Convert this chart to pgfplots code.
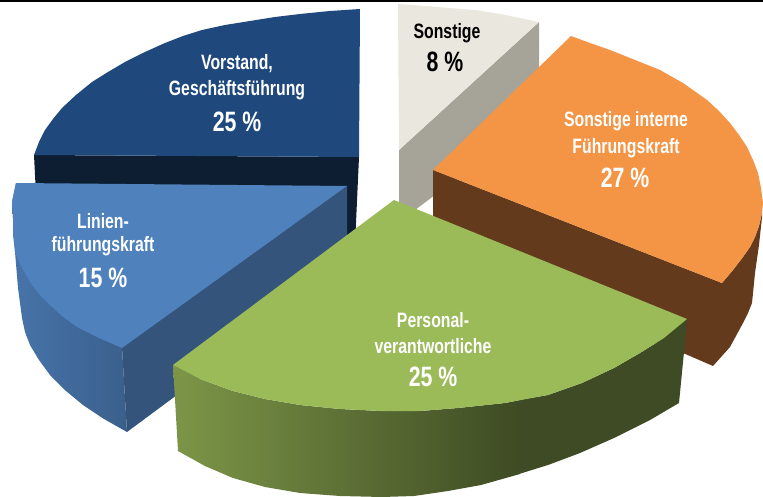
\documentclass[border=0pt]{standalone}
\usepackage{pgfplots}
\pgfplotsset{compat=1.18}
\usepackage{fontspec}
\setmainfont{Liberation Sans}[FakeStretch=0.76]
\definecolor{navy}{HTML}{1F497D}
\definecolor{navyd}{HTML}{0D1E33}
\definecolor{blu}{HTML}{4F81BD}
\definecolor{blud}{HTML}{34547B}
\definecolor{grn}{HTML}{9BBB59}
\definecolor{org}{HTML}{F49445}
\definecolor{brn}{HTML}{633A1C}
\definecolor{tan}{HTML}{EAE8DE}
\definecolor{tand}{HTML}{A6A398}
\newcommand{\lab}[3]{\node[text=white,font=\bfseries\fontsize{20.8}{22}\selectfont,anchor=center,inner sep=0pt] at (axis cs:#1,#2) {#3};}
\newcommand{\num}[3]{\node[text=white,font=\bfseries\fontsize{28}{29}\selectfont,anchor=center,inner sep=0pt] at (axis cs:#1,#2) {#3};}
\begin{document}
\begin{tikzpicture}
\begin{axis}[scale only axis,width=763pt,height=498pt,xmin=0,xmax=763,ymin=0,ymax=498,y dir=reverse,hide axis,clip=true]
% black top rule
\addplot[fill=black,draw=none,forget plot] coordinates {(0,0)(763,0)(763,2)(0,2)};
% navy side
\addplot[fill=navyd,draw=none,forget plot] coordinates {(34,155)(359,157)(355,245)(36,195)};
% navy top
\addplot[fill=navy,draw=none,forget plot] coordinates {(360,9)(330,11)(300,14)(275,17)(250,21)(225,25)(202,30)(183,36)(165,43)(145,52)(125,62)(108,72)(92,82)(76,95)(62,108)(53,119)(45,130)(39,142)(34,155)(359,157)};
% blue curved side
\addplot[left color=blu!90!black,right color=blu!74!black,draw=none,forget plot] coordinates {(16,183)(12,202)(13,218)(15,252)(18,288)(22,318)(25,332)(30,345)(39,360)(50,375)(66,391)(83,405)(104,419)(127,432)(122,347)};
% blue flat side
\addplot[fill=blud,draw=none,forget plot] coordinates {(347,186)(122,347)(127,432)(347,269)};
% blue top
\addplot[fill=blu,draw=none,forget plot] coordinates {(16,183)(347,186)(122,348)(99,338)(77,327)(62,316)(50,305)(39,294)(30,282)(22,268)(15,252)(13,235)(13,218)(12,202)};
% tan side
\addplot[fill=tand,draw=none,forget plot] coordinates {(399,150)(539,22)(539,117)(399,222)};
% tan top
\addplot[fill=tan,draw=none,forget plot] coordinates {(398,4)(425,6)(450,8)(475,10)(500,14)(520,18)(539,22)(399,150)};
% orange side
\addplot[fill=brn,draw=none,forget plot] coordinates {(433,170)(722,283)(733,270)(743,257)(750,247)(755,237)(759,226)(762,213)(762,217)(759,245)(755,273)(752,303)(748,313)(743,323)(730,347)(713,366)(683,353)(433,255)};
% orange top
\addplot[fill=org,draw=none,forget plot] coordinates {(433,170)(571,36)(590,43)(610,50)(635,60)(660,70)(683,83)(707,100)(719,111)(730,123)(739,135)(747,147)(753,160)(758,173)(761,188)(763,203)(762,213)(759,226)(755,237)(750,247)(743,257)(733,270)(722,283)};
% green side, left part
\addplot[left color=grn!80!black,right color=grn!40!black,draw=none,forget plot] coordinates {(173,365)(200,379)(233,391)(265,399)(300,405)(340,409)(381,411)(420,411)(458,408)(505,403)(520,400)(520,474)(481,485)(448,491)(414,496)(382,497)(340,496)(300,493)(265,487)(233,478)(205,466)(178,451)};
% green side, right part
\addplot[fill=grn!40!black,draw=none,forget plot] coordinates {(519,400)(548,395)(582,383)(614,368)(640,353)(664,338)(687,319)(684,352)(679,403)(650,420)(614,438)(580,453)(548,465)(519,474)};
% green top
\addplot[fill=grn,draw=none,forget plot] coordinates {(394,200)(687,319)(664,338)(640,353)(614,368)(582,383)(548,395)(505,403)(458,408)(420,411)(381,411)(340,409)(300,405)(265,399)(233,391)(200,379)(173,365)};
% labels
\lab{237}{64}{Vorstand,}
\lab{237}{90}{Geschäftsführung}
\num{237}{122}{25 \%}
\node[text=black,font=\bfseries\fontsize{20.8}{22}\selectfont,inner sep=0pt] at (axis cs:447,33) {Sonstige};
\node[text=black,font=\bfseries\fontsize{28}{29}\selectfont,inner sep=0pt] at (axis cs:445,62) {8 \%};
\lab{626}{121}{Sonstige interne}
\lab{626}{148}{Führungskraft}
\num{625}{178}{27 \%}
\lab{103}{221}{Linien-}
\lab{103}{246}{führungskraft}
\num{103}{278}{15 \%}
\lab{433}{320}{Personal-}
\lab{433}{346}{verantwortliche}
\num{433}{377}{25 \%}
\end{axis}
\end{tikzpicture}
\end{document}
